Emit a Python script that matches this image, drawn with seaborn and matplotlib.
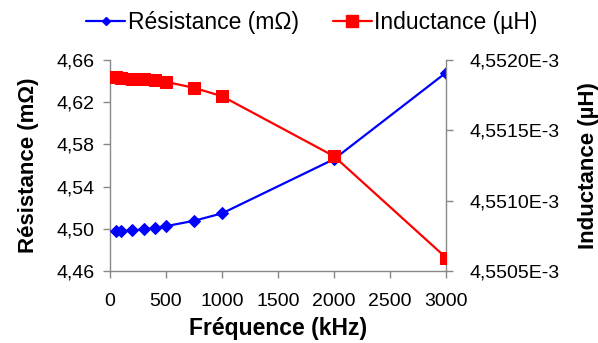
import matplotlib
matplotlib.use("Agg")
import matplotlib.pyplot as plt
import seaborn as sns
import pandas as pd
from matplotlib.ticker import FuncFormatter
from matplotlib.lines import Line2D

sns.set_theme(style="white")
plt.rcParams['font.family'] = ['Liberation Sans', 'DejaVu Sans']
plt.rcParams['text.color'] = 'black'
plt.rcParams['axes.labelcolor'] = 'black'

freq_khz = [50, 100, 200, 300, 400, 500, 750, 1000, 2000, 3000]
resistance_mohm = [4.4978, 4.4979, 4.4984, 4.4994, 4.5008, 4.5025, 4.5076, 4.5146, 4.5660, 4.6480]
inductance = [4.551876e-3, 4.551875e-3, 4.551866e-3, 4.551864e-3, 4.551857e-3, 4.551845e-3,
              4.551802e-3, 4.551743e-3, 4.551316e-3, 4.550595e-3]
x_ticks = [0, 500, 1000, 1500, 2000, 2500, 3000]
left_ticks = [4.46, 4.50, 4.54, 4.58, 4.62, 4.66]
right_ticks = [4.5505e-3, 4.5510e-3, 4.5515e-3, 4.5520e-3]

df = pd.DataFrame({"f": freq_khz, "R": resistance_mohm, "L": inductance})

fig = plt.figure(figsize=(5.98, 3.43), dpi=100)
ax = fig.add_axes([110/598, 1-271/343, 336/598, 211/343])
ax2 = ax.twinx()

blue = "#0000FF"
red = "#FF0000"
sns.lineplot(data=df, x="f", y="R", ax=ax, color=blue, marker="D", markersize=6,
             markeredgecolor=blue, linewidth=1.6, zorder=3)
sns.lineplot(data=df, x="f", y="L", ax=ax2, color=red, marker="s", markersize=9,
             markeredgecolor=red, linewidth=1.6, zorder=3)

ax.set_xlim(0, 3000)
ax.set_ylim(4.46, 4.66)
ax2.set_ylim(4.5505e-3, 4.5520e-3)
ax.set_xticks(x_ticks)
ax.set_yticks(left_ticks)
ax2.set_yticks(right_ticks)
ax.yaxis.set_major_formatter(FuncFormatter(lambda v, p: f"{v:.2f}".replace('.', ',')))
ax2.yaxis.set_major_formatter(FuncFormatter(lambda v, p: f"{v*1e3:.4f}E-3".replace('.', ',')))

gray = "#888888"
for a in (ax, ax2):
    for s in a.spines.values():
        s.set_color(gray)
        s.set_linewidth(1.0)
    a.spines['top'].set_visible(False)
ax.spines['right'].set_visible(False)
ax2.spines['left'].set_visible(False)
ax2.spines['bottom'].set_visible(False)

ax.tick_params(axis='x', direction='out', length=5, width=1, color=gray,
               labelsize=14, labelcolor='black', bottom=True, pad=11)
ax.tick_params(axis='y', direction='out', length=5, width=1, color=gray,
               labelsize=14, labelcolor='black', left=True, pad=6)
ax2.tick_params(axis='y', direction='out', length=5, width=1, color=gray,
                labelsize=14, labelcolor='black', right=True, pad=12)

ax.set_xlabel("Fréquence (kHz)", fontsize=16.5, fontweight='bold', labelpad=5, color='black')
ax.set_ylabel("Résistance (mΩ)", fontsize=16, fontweight='bold', labelpad=13, color='black')
ax2.set_ylabel("Inductance (µH)", fontsize=16, fontweight='bold', labelpad=13, color='black')
ax.grid(False)
ax2.grid(False)

handles = [Line2D([], [], color=blue, marker="D", markersize=4.5, linewidth=1.6),
           Line2D([], [], color=red, marker="s", markersize=8, linewidth=1.6)]
fig.legend(handles, ["Résistance (mΩ)", "Inductance (µH)"], loc="center",
           bbox_to_anchor=(312/598, 1-23/343), ncol=2, frameon=False, fontsize=16.5,
           handlelength=1.7, handletextpad=0.1, columnspacing=1.5)

fig.savefig("out.png", dpi=100)
